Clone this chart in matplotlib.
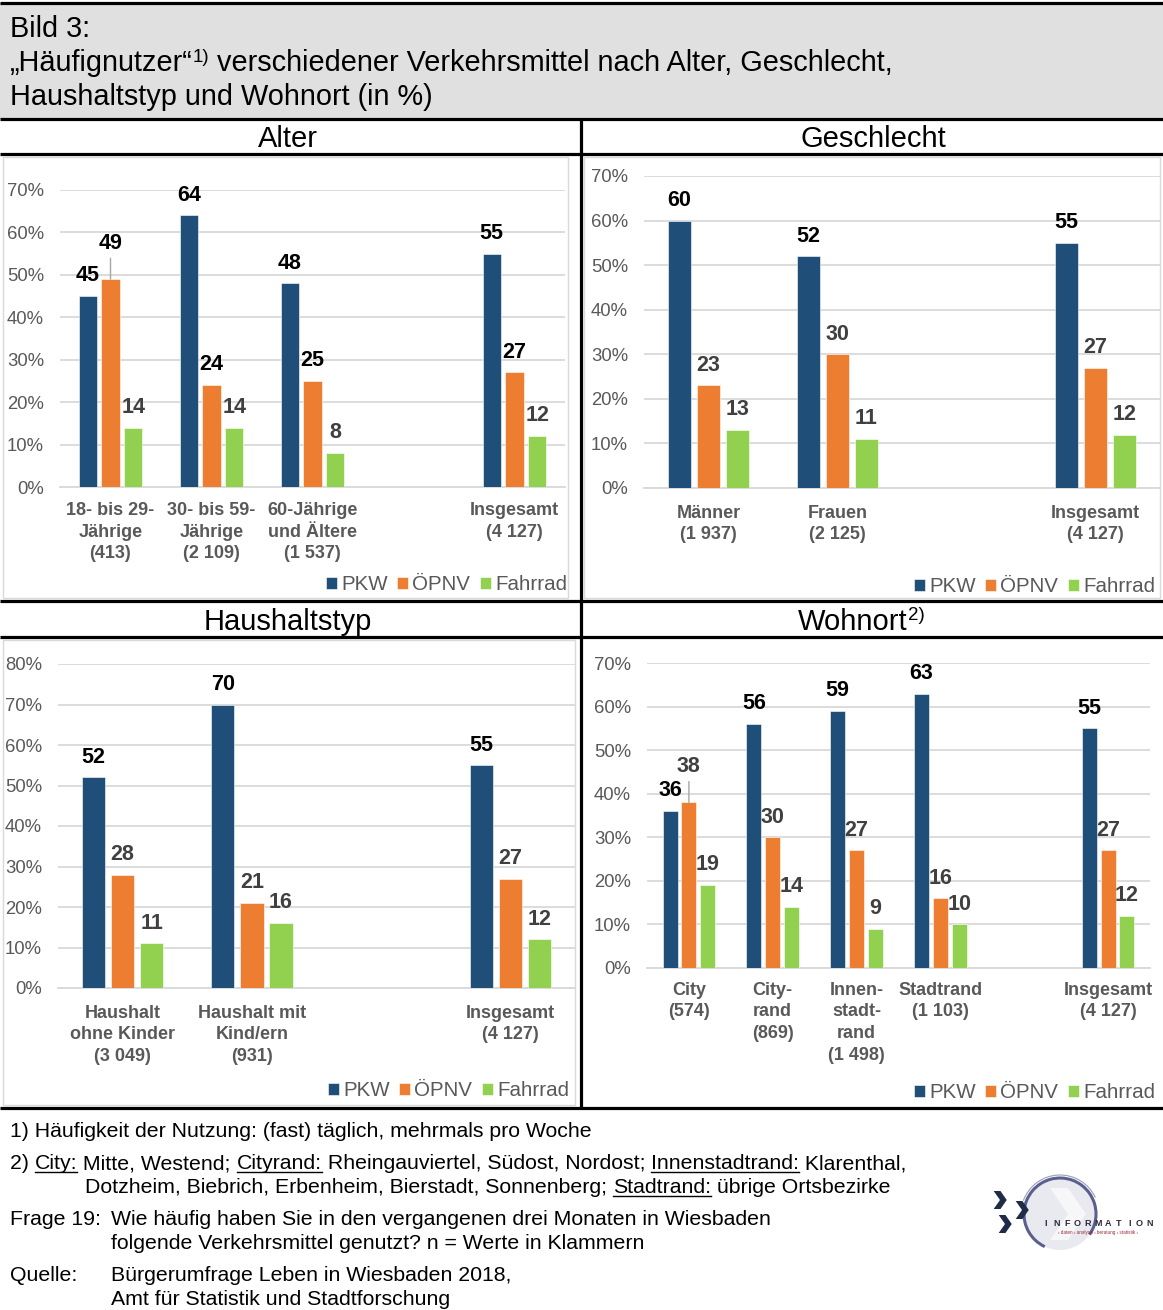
import numpy as np
import matplotlib
matplotlib.use("Agg")
import matplotlib.pyplot as plt
from matplotlib import font_manager
from matplotlib.patches import Rectangle, Circle, Arc, Polygon

W, H = 1163, 1310
plt.rcParams['font.family'] = ['Liberation Sans', 'DejaVu Sans']
avail = {f.name for f in font_manager.fontManager.ttflist}
NARROW = 'Liberation Sans Narrow' if 'Liberation Sans Narrow' in avail else 'Liberation Sans'
FN_SIZE = 17 if NARROW == 'Liberation Sans Narrow' else 15.3

# --- Daten ---
series = ["PKW", "ÖPNV", "Fahrrad"]
colors = ["#1F4E79", "#ED7D31", "#92D050"]

alter_cats = ["18- bis 29-\nJährige\n(413)", "30- bis 59-\nJährige\n(2 109)",
              "60-Jährige\nund Ältere\n(1 537)", "Insgesamt\n(4 127)"]
alter_pkw = [45, 64, 48, 55]
alter_oepnv = [49, 24, 25, 27]
alter_rad = [14, 14, 8, 12]

geschl_cats = ["Männer\n(1 937)", "Frauen\n(2 125)", "Insgesamt\n(4 127)"]
geschl_pkw = [60, 52, 55]
geschl_oepnv = [23, 30, 27]
geschl_rad = [13, 11, 12]

haus_cats = ["Haushalt\nohne Kinder\n(3 049)", "Haushalt mit\nKind/ern\n(931)", "Insgesamt\n(4 127)"]
haus_pkw = [52, 70, 55]
haus_oepnv = [28, 21, 27]
haus_rad = [11, 16, 12]

wohn_cats = ["City\n(574)", "City-\nrand\n(869)", "Innen-\nstadt-\nrand\n(1 498)",
             "Stadtrand\n(1 103)", "Insgesamt\n(4 127)"]
wohn_pkw = [36, 56, 59, 63, 55]
wohn_oepnv = [38, 30, 27, 16, 27]
wohn_rad = [19, 14, 9, 10, 12]

fig = plt.figure(figsize=(W/100, H/100), dpi=100)
bg = fig.add_axes([0, 0, 1, 1], zorder=-1)
bg.set_xlim(0, W); bg.set_ylim(H, 0); bg.axis("off")
R = fig.canvas.get_renderer()

def hline(y, x0=0, x1=W, lw=2.3, c="black"):
    bg.plot([x0, x1], [y, y], color=c, lw=lw, solid_capstyle="butt")

def vline(x, y0, y1, lw=2.3, c="black"):
    bg.plot([x, x], [y0, y1], color=c, lw=lw, solid_capstyle="butt")

def run(x, y, parts, size, family, color="black"):
    # Textstücke hintereinander auf einer Grundlinie, opt. unterstrichen / hochgestellt
    for s, opt in parts:
        sz = opt.get("size", size)
        dy = opt.get("dy", 0)
        t = bg.text(x, y - dy, s, fontsize=sz, family=family, color=color, va="baseline", ha="left")
        bb = t.get_window_extent(R)
        if opt.get("u"):
            bg.plot([x, x + bb.width], [y + 3, y + 3], color=color, lw=1.0)
        x += bb.width

# Kopf
bg.add_patch(Rectangle((0, 3), W, 116, fc="#e0e0e0", ec="none"))
hline(3)
TS = 20.8
run(10, 37, [("Bild 3:", {})], TS, "Liberation Sans")
run(10, 71, [("„Häufignutzer“", {}), ("1)", {"size": 13.5, "dy": 9}),
             (" verschiedener Verkehrsmittel nach Alter, Geschlecht,", {})], TS, "Liberation Sans")
run(10, 105, [("Haushaltstyp und Wohnort (in %)", {})], TS, "Liberation Sans")

for y in [119, 154, 601, 637, 1108]:
    hline(y)
vline(581, 119, 1108)

bg.text(288, 147, "Alter", fontsize=21, ha="center", va="baseline")
bg.text(873, 147, "Geschlecht", fontsize=21, ha="center", va="baseline")
bg.text(288, 630, "Haushaltstyp", fontsize=21, ha="center", va="baseline")
bg.text(908, 630, "Wohnort", fontsize=21, ha="right", va="baseline")
bg.text(908, 620, "2)", fontsize=13.5, ha="left", va="baseline")

# Rahmen der Diagrammflächen
for (x0, y0, x1, y1) in [(3, 157, 568, 598), (584, 157, 1160, 598), (3, 640, 575, 1105)]:
    bg.add_patch(Rectangle((x0, y0), x1 - x0, y1 - y0, fc="none", ec="#d9d9d9", lw=1))


def panel(box, cats, vals, ymax, lab_cols, lift, legend_xy, catpad):
    x0, x1, ytop, ybot = box
    ax = fig.add_axes([x0/W, 1 - ybot/H, (x1 - x0)/W, (ybot - ytop)/H])
    ax.set_facecolor("none")
    n = len(cats)
    xs = np.arange(n, dtype=float)
    xs[-1] += 1  # leerer Platz vor "Insgesamt"
    bw, step = 0.18, 0.225
    for k, (v, c) in enumerate(zip(vals, colors)):
        pos = xs + (k - 1) * step
        ax.bar(pos, v, width=bw, color=c, edgecolor="white", linewidth=0.4, label=series[k], zorder=3)
        for i, (px, val) in enumerate(zip(pos, v)):
            extra = 11 if (k, i) in lift else 0
            ap = dict(arrowstyle="-", color="#a6a6a6", lw=1, shrinkA=1, shrinkB=0) if extra else None
            ax.annotate(str(val), (px, val), xytext=(0, 7 + extra), textcoords="offset points",
                        ha="center", va="bottom", fontsize=15.5, fontweight="bold",
                        color=lab_cols[k], zorder=5, arrowprops=ap)
    ax.set_xlim(-0.5, n + 0.5)
    ax.set_ylim(0, ymax)
    ax.set_yticks(range(0, ymax + 1, 10))
    ax.set_yticklabels([f"{t}%" for t in range(0, ymax + 1, 10)])
    ax.set_xticks(xs)
    ax.set_xticklabels(cats, fontweight="bold", fontsize=13, color="#595959", linespacing=1.35)
    ax.tick_params(axis="y", length=0, pad=11.5, labelsize=13.3, labelcolor="#595959")
    ax.tick_params(axis="x", length=0, pad=catpad)
    ax.yaxis.grid(True, color="#d9d9d9", lw=1.3, zorder=0)
    for s in ["top", "right", "left"]:
        ax.spines[s].set_visible(False)
    ax.spines["bottom"].set_color("#d9d9d9")
    ax.spines["bottom"].set_linewidth(1.3)
    ax.legend(loc="center right", bbox_to_anchor=legend_xy, bbox_transform=bg.transData,
              ncol=3, frameon=False, fontsize=14.8, handlelength=0.55, handleheight=0.55,
              handletextpad=0.2, columnspacing=0.45, borderpad=0, borderaxespad=0,
              labelcolor="#595959")
    return ax


dark, grey = "black", "#404040"
panel((60, 565, 190, 487), alter_cats, [alter_pkw, alter_oepnv, alter_rad], 70,
      [dark, dark, grey], {(1, 0)}, (567, 585), 11)
panel((644, 1160, 176, 488), geschl_cats, [geschl_pkw, geschl_oepnv, geschl_rad], 70,
      [dark, grey, grey], set(), (1155, 587), 12)
panel((58, 575, 664, 988), haus_cats, [haus_pkw, haus_oepnv, haus_rad], 80,
      [dark, grey, grey], set(), (569, 1091), 12)
panel((647, 1150, 663, 968), wohn_cats, [wohn_pkw, wohn_oepnv, wohn_rad], 70,
      [dark, grey, grey], {(1, 0)}, (1155, 1093), 10)

# Fußnoten
fs, ff = FN_SIZE, NARROW
run(10, 1137, [("1) Häufigkeit der Nutzung: (fast) täglich, mehrmals pro Woche", {})], fs, ff)
run(10, 1169, [("2) ", {}), ("City:", {"u": 1}), (" Mitte, Westend; ", {}), ("Cityrand:", {"u": 1}),
               (" Rheingauviertel, Südost, Nordost; ", {}), ("Innenstadtrand:", {"u": 1}),
               (" Klarenthal,", {})], fs, ff)
run(85, 1193, [("Dotzheim, Biebrich, Erbenheim, Bierstadt, Sonnenberg; ", {}), ("Stadtrand:", {"u": 1}),
               (" übrige Ortsbezirke", {})], fs, ff)
run(10, 1225, [("Frage 19:", {})], fs, ff)
run(111, 1225, [("Wie häufig haben Sie in den vergangenen drei Monaten in Wiesbaden", {})], fs, ff)
run(111, 1249, [("folgende Verkehrsmittel genutzt? n = Werte in Klammern", {})], fs, ff)
run(10, 1281, [("Quelle:", {})], fs, ff)
run(111, 1281, [("Bürgerumfrage Leben in Wiesbaden 2018,", {})], fs, ff)
run(111, 1305, [("Amt für Statistik und Stadtforschung", {})], fs, ff)

# Logo (grob nachgezeichnet)
cx, cy, r = 1060, 1214, 36
bg.add_patch(Circle((cx, cy), r, fc="#e9e9f0", ec="none"))
bg.add_patch(Polygon([(1050, 1188), (1068, 1188), (1086, 1214), (1068, 1240), (1050, 1240), (1068, 1214)],
                     fc="#f7f7fa", ec="none"))
bg.add_patch(Arc((cx, cy), 2*r, 2*r, theta1=115, theta2=395, color="#5b5f8e", lw=2.2))
bg.add_patch(Arc((cx, cy), 2*r + 6, 2*r + 6, theta1=200, theta2=335, color="#9a9cbc", lw=0.8))

def chevron(x, y, s, c="#1e2c48"):
    bg.add_patch(Polygon([(x - s*0.7, y - s), (x + s*0.05, y - s), (x + s*0.75, y),
                          (x + s*0.05, y + s), (x - s*0.7, y + s), (x, y)], fc=c, ec="none"))

chevron(1000, 1200, 9)
chevron(1005, 1224, 9)
chevron(1022, 1210, 9)
for i, ch in enumerate("INFORMATION"):
    bg.text(1046 + i * 10.4, 1226, ch, fontsize=6.5, fontweight="bold", color="#2b2b3a",
            ha="center", va="baseline")
bg.text(1098, 1234, "› daten › analyse › beratung › statistik ›", fontsize=3.3, color="#9a2a3a",
        ha="center", va="baseline")

fig.savefig("out.png", dpi=100)
